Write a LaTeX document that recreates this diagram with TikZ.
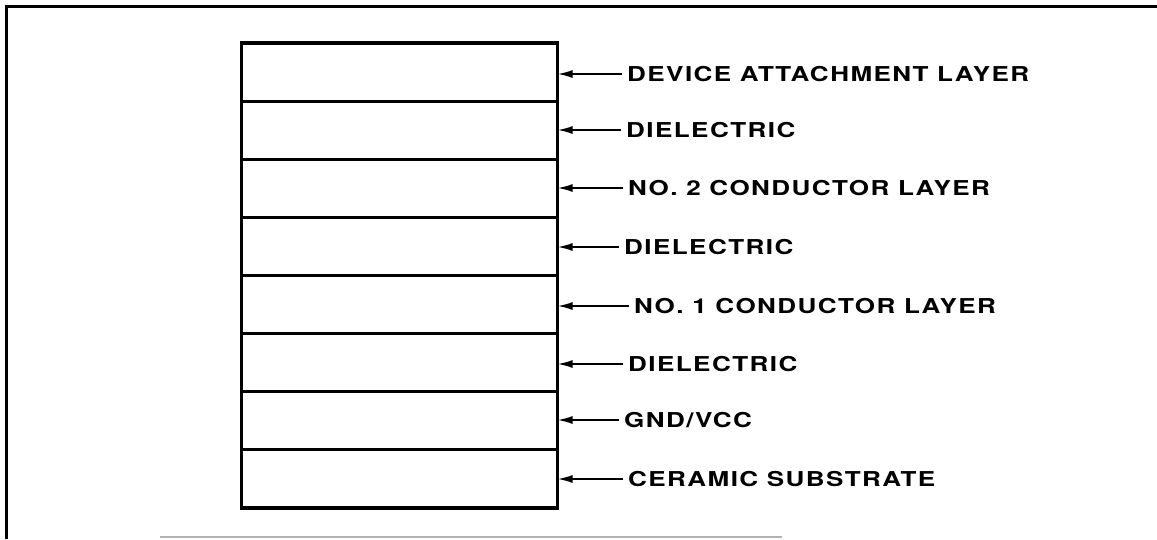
\documentclass[tikz,border=0pt]{standalone}
\usepackage{fontspec}
\setmainfont{TeX Gyre Heros}
\newfontfamily\labfont[FakeStretch=1.27,LetterSpace=7]{TeX Gyre Heros}
\usetikzlibrary{arrows.meta}
\begin{document}
\begin{tikzpicture}[x=1pt,y=-1pt,
  layer/.style={draw, line width=3pt, minimum width=316pt, minimum height=58.125pt, inner sep=0pt, outer sep=0pt},
  lab/.style={anchor=west, inner xsep=5pt, inner ysep=0pt, text depth=0pt, font=\labfont\bfseries\fontsize{20.5}{20.5}\selectfont},
  arr/.style={line width=2pt, -{Latex[length=15pt,width=8pt]}}]
\useasboundingbox (0,0) rectangle (1157,539);
% outer frame
\draw[line width=3pt] (1157,6) -- (6,6) -- (6,539);
\draw[black!30, line width=2pt] (160,537) -- (782,537);
% layers
\foreach \i in {1,...,8}{
  \node[layer] (l\i) at (399.5,{43+58.125*(\i-0.5)}) {};
}
\draw[line width=3.5pt] (l1.north west) rectangle (l8.south east);
% labels
\node[lab] (t1) at (622,74) {DEVICE ATTACHMENT LAYER};
\node[lab] (t2) at (621,130) {DIELECTRIC};
\node[lab] (t3) at (623,188) {NO. 2 CONDUCTOR LAYER};
\node[lab] (t4) at (619,247) {DIELECTRIC};
\node[lab] (t5) at (629,306) {NO. 1 CONDUCTOR LAYER};
\node[lab] (t6) at (623,364) {DIELECTRIC};
\node[lab] (t7) at (619,420) {GND/VCC};
\node[lab] (t8) at (623,479) {CERAMIC SUBSTRATE};
\foreach \i in {1,...,8}{
  \draw[arr] (t\i.west) -- (t\i.west -| l\i.east);
}
\end{tikzpicture}
\end{document}
